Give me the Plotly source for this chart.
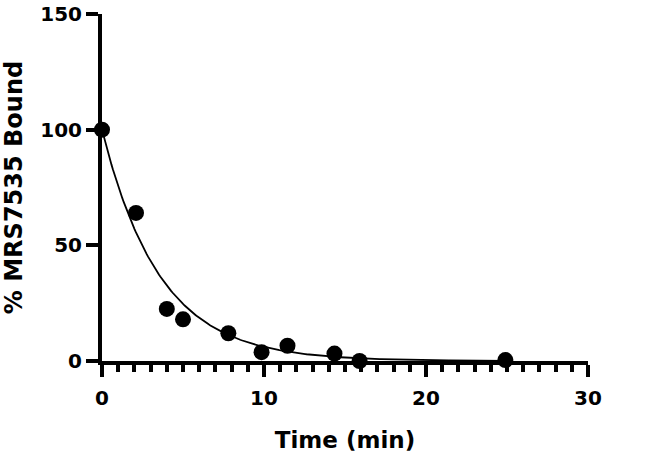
import numpy as np
import plotly.graph_objects as go

# Data
time_min = [0, 2.1, 4.0, 5.0, 7.8, 9.85, 11.45, 14.35, 15.9, 24.9]
pct_bound = [100, 64, 22.5, 18, 12, 3.8, 6.6, 3.2, 0, 0.4]

# One-phase decay fit parameters
fit_y0 = 100
fit_k = 0.28
fit_t = np.linspace(0, 25, 300)
fit_y = fit_y0 * np.exp(-fit_k * fit_t)

x_ticks = [0, 10, 20, 30]
y_ticks = [0, 50, 100, 150]

fig = go.Figure()
fig.add_trace(go.Scatter(x=fit_t, y=fit_y, mode="lines",
                         line=dict(color="black", width=1.8),
                         hoverinfo="skip", cliponaxis=False))
fig.add_trace(go.Scatter(x=time_min, y=pct_bound, mode="markers",
                         marker=dict(color="black", size=16),
                         cliponaxis=False))

font_family = "DejaVu Sans, sans-serif"
fig.update_layout(
    width=645, height=457,
    margin=dict(l=102, r=57, t=14, b=96),
    paper_bgcolor="white", plot_bgcolor="white",
    showlegend=False,
    font=dict(family=font_family, color="black"),
)
fig.update_xaxes(
    range=[0, 30], tickvals=x_ticks, ticktext=[str(v) for v in x_ticks],
    showline=True, linewidth=4, linecolor="black", showgrid=False, zeroline=False,
    ticks="outside", ticklen=12, tickwidth=4, tickcolor="black",
    minor=dict(dtick=1, ticks="outside", ticklen=7, tickwidth=4, tickcolor="black", showgrid=False),
    tickfont=dict(size=20, family=font_family, weight="bold"),
    ticklabelstandoff=4,
    title=dict(text="<b>Time (min)</b>", font=dict(size=23), standoff=24),
    automargin=False,
)
fig.update_yaxes(
    range=[0, 150], tickvals=y_ticks, ticktext=[str(v) for v in y_ticks],
    showline=True, linewidth=4, linecolor="black", showgrid=False, zeroline=False,
    ticks="outside", ticklen=12, tickwidth=4, tickcolor="black",
    tickfont=dict(size=20, family=font_family, weight="bold"),
    title=dict(text="<b>% MRS7535 Bound</b>", font=dict(size=24), standoff=16),
    automargin=False,
)

fig.write_html("out.html", config={"displayModeBar": False},
               post_script="document.body.style.margin='0';")
